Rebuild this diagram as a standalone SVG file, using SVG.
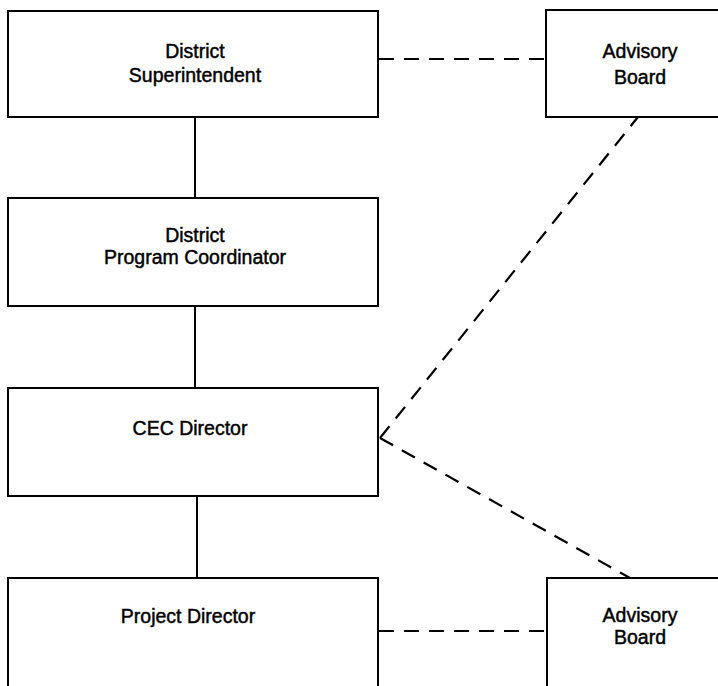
<svg xmlns="http://www.w3.org/2000/svg" width="718" height="686" viewBox="0 0 718 686">
  <style>
    .box { fill: #ffffff; stroke: #000000; stroke-width: 2; }
    .solid { fill: none; stroke: #000000; stroke-width: 2; }
    .dash { fill: none; stroke: #000000; stroke-width: 2.2; stroke-dasharray: 15 10; }
    .label { font-family: "Liberation Sans", Arial, sans-serif; font-size: 19.5px; fill: #000000; text-anchor: middle; stroke: #000000; stroke-width: 0.45; }
  </style>
  <rect width="718" height="686" fill="#ffffff"/>

  <!-- connectors -->
  <g id="connectors">
    <line class="solid" x1="195" y1="117" x2="195" y2="198"/>
    <line class="solid" x1="195" y1="306" x2="195" y2="388"/>
    <line class="solid" x1="197" y1="496" x2="197" y2="578"/>
    <line class="dash" x1="379" y1="59" x2="546" y2="59"/>
    <line class="dash" x1="380" y1="438" x2="638" y2="117"/>
    <line class="dash" x1="380" y1="438" x2="630" y2="578"/>
    <line class="dash" x1="379" y1="631" x2="547" y2="631"/>
  </g>

  <g id="district-superintendent">
    <rect class="box" x="8" y="11" width="370" height="106"/>
    <text class="label" x="195" y="58">District</text>
    <text class="label" x="195" y="82">Superintendent</text>
  </g>

  <g id="advisory-board-top">
    <rect class="box" x="546" y="10" width="180" height="107"/>
    <text class="label" x="640" y="58">Advisory</text>
    <text class="label" x="640" y="84">Board</text>
  </g>

  <g id="district-program-coordinator">
    <rect class="box" x="8" y="198" width="370" height="108"/>
    <text class="label" x="195" y="242">District</text>
    <text class="label" x="195" y="264">Program Coordinator</text>
  </g>

  <g id="cec-director">
    <rect class="box" x="8" y="388" width="370" height="108"/>
    <text class="label" x="190" y="435">CEC Director</text>
  </g>

  <g id="project-director">
    <rect class="box" x="8" y="578" width="370" height="120"/>
    <text class="label" x="188" y="623">Project Director</text>
  </g>

  <g id="advisory-board-bottom">
    <rect class="box" x="547" y="578" width="180" height="120"/>
    <text class="label" x="640" y="622">Advisory</text>
    <text class="label" x="640" y="644">Board</text>
  </g>
</svg>
